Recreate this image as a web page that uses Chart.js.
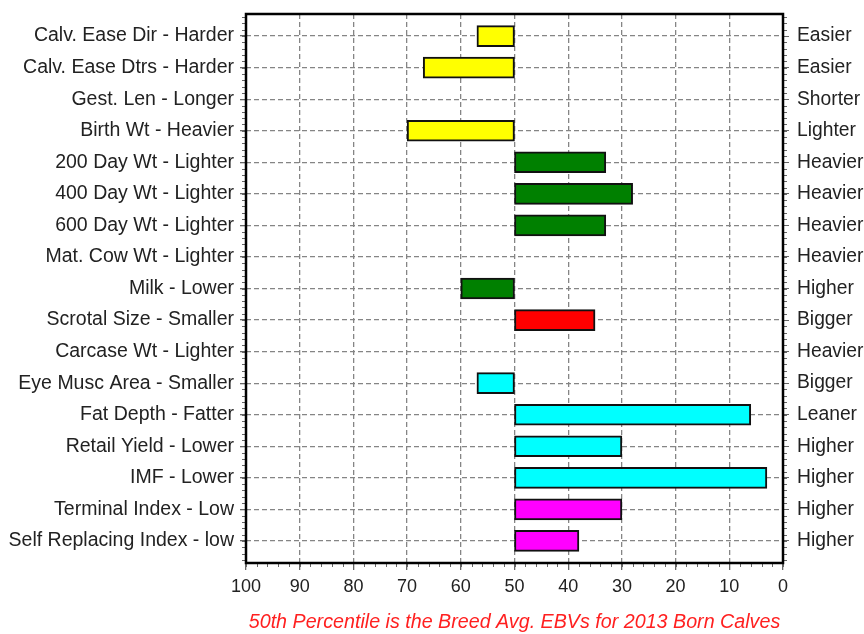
<!DOCTYPE html>
<html>
<head>
<meta charset="utf-8">
<script src="https://cdn.jsdelivr.net/npm/chart.js@4.4.0/dist/chart.umd.min.js"></script>
<style>
  html, body { margin: 0; padding: 0; background: #fff; }
  #wrap { width: 864px; height: 634px; position: relative; }
</style>
</head>
<body>
<div id="wrap"><canvas id="ebv"></canvas></div>
<script>
// traits, top to bottom
const leftLabels = [
    'Calv. Ease Dir - Harder', 'Calv. Ease Dtrs - Harder', 'Gest. Len - Longer', 'Birth Wt - Heavier',
    '200 Day Wt - Lighter', '400 Day Wt - Lighter', '600 Day Wt - Lighter', 'Mat. Cow Wt - Lighter',
    'Milk - Lower', 'Scrotal Size - Smaller', 'Carcase Wt - Lighter', 'Eye Musc Area - Smaller',
    'Fat Depth - Fatter', 'Retail Yield - Lower', 'IMF - Lower', 'Terminal Index - Low',
    'Self Replacing Index - low'
];
const rightLabels = [
    'Easier', 'Easier', 'Shorter', 'Lighter', 'Heavier', 'Heavier', 'Heavier', 'Heavier',
    'Higher', 'Bigger', 'Heavier', 'Bigger', 'Leaner', 'Higher', 'Higher', 'Higher', 'Higher'
];
// percentile band reached by each trait (null = no bar shown)
const percentiles = [57, 67, null, 70, 33, 28, 33, null, 60, 35, null, 57, 6, 30, 3, 30, 38];
const barColors = [
    '#FFFF00', '#FFFF00', '#FFFF00', '#FFFF00',
    '#008000', '#008000', '#008000', '#008000', '#008000',
    '#FF0000', '#FF0000',
    '#00FFFF', '#00FFFF', '#00FFFF', '#00FFFF',
    '#FF00FF', '#FF00FF'
];
const breedAvg = 50;
const footerText = '50th Percentile is the Breed Avg. EBVs for 2013 Born Calves';

const FONT = "'Liberation Sans', Arial, sans-serif";
const GRID = '#858585';

const points = percentiles
    .map((v, i) => (v === null ? null : { x: [breedAvg, v], y: i }))
    .filter(p => p !== null);

const rowTicks = scale => {
    scale.ticks = leftLabels.map((_, i) => ({ value: i }));
};

// fixed side width, and no extra label padding above/below the plot
const sideFit = w => s => {
    s.width = w;
    s.paddingTop = 0;
    s.paddingBottom = 0;
};

// minor tick marks and the heavy frame round the plot
const frame = {
    id: 'frame',
    afterDraw(chart) {
        const { ctx, chartArea: a, scales: { x, y } } = chart;
        ctx.save();
        ctx.strokeStyle = '#666';
        ctx.lineWidth = 1;
        ctx.beginPath();
        for (let v = 0; v <= 100; v += 2) {
            const px = Math.round(x.getPixelForValue(v)) + 0.5;
            ctx.moveTo(px, a.bottom);
            ctx.lineTo(px, a.bottom + 4);
        }
        for (let k = -3; k <= 83; k++) {
            const py = Math.round(y.getPixelForValue(k / 5)) + 0.5;
            ctx.moveTo(a.left - 4, py);
            ctx.lineTo(a.left, py);
            ctx.moveTo(a.right, py);
            ctx.lineTo(a.right + 4, py);
        }
        ctx.stroke();
        ctx.lineWidth = 2.5;
        ctx.strokeStyle = '#000';
        ctx.strokeRect(a.left, a.top, a.width, a.height);
        ctx.restore();
    }
};

new Chart(document.getElementById('ebv'), {
    type: 'bar',
    data: {
        datasets: [{
            data: points,
            yAxisID: 'y',
            backgroundColor: c => barColors[c.raw ? c.raw.y : 0],
            borderColor: '#111',
            borderWidth: 2,
            borderSkipped: false,
            barThickness: 21
        }]
    },
    options: {
        indexAxis: 'y',
        responsive: true,
        maintainAspectRatio: false,
        animation: false,
        layout: { padding: { top: 14, left: 0, right: 0, bottom: 0 } },
        plugins: {
            legend: { display: false },
            tooltip: { enabled: false }
        },
        scales: {
            x: {
                type: 'linear',
                position: 'bottom',
                min: 0,
                max: 100,
                reverse: true,
                afterFit: s => { s.height = 71; },
                border: { display: false, dash: [5, 3] },
                grid: {
                    color: GRID,
                    lineWidth: 1.3,
                    tickLength: 7,
                    tickColor: '#666',
                    tickBorderDash: []
                },
                ticks: {
                    stepSize: 10,
                    padding: 6,
                    color: '#222',
                    font: { family: FONT, size: 18 }
                },
                title: {
                    display: true,
                    text: footerText,
                    color: '#FF2020',
                    padding: { top: 0, bottom: 0 },
                    font: { family: FONT, size: 19.7, style: 'italic' }
                }
            },
            y: {
                type: 'linear',
                position: 'left',
                min: -0.7,
                max: 16.7,
                reverse: true,
                offset: false,
                afterBuildTicks: rowTicks,
                afterFit: sideFit(246),
                border: { display: false, dash: [5, 3] },
                grid: {
                    offset: false,
                    color: GRID,
                    lineWidth: 1.3,
                    tickLength: 6,
                    tickColor: '#666',
                    tickBorderDash: []
                },
                ticks: {
                    padding: 6,
                    color: '#222',
                    font: { family: FONT, size: 19.5 },
                    callback: v => leftLabels[v]
                }
            },
            y2: {
                type: 'linear',
                position: 'right',
                min: -0.7,
                max: 16.7,
                reverse: true,
                offset: false,
                afterBuildTicks: rowTicks,
                afterFit: sideFit(81),
                border: { display: false },
                grid: {
                    offset: false,
                    drawOnChartArea: false,
                    tickLength: 6,
                    tickColor: '#666'
                },
                ticks: {
                    padding: 8,
                    color: '#222',
                    font: { family: FONT, size: 19.3 },
                    callback: v => rightLabels[v]
                }
            }
        }
    },
    plugins: [frame]
});
</script>
</body>
</html>
